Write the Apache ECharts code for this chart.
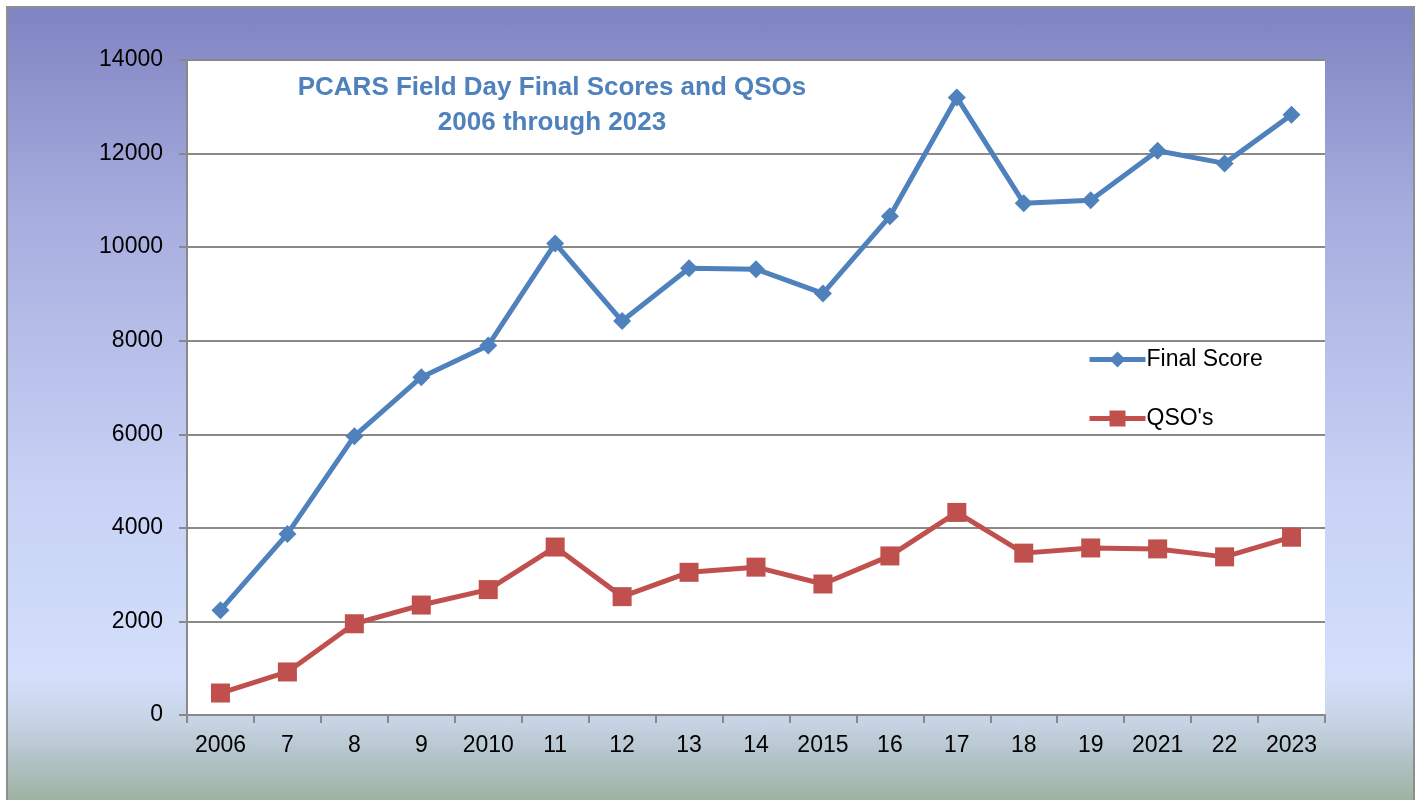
<!DOCTYPE html>
<html>
<head>
<meta charset="utf-8">
<script src="https://cdn.jsdelivr.net/npm/echarts@6/dist/echarts.min.js"></script>
<style>
  html, body { margin: 0; padding: 0; background: #fff; }
  .frame {
    position: absolute; left: 6px; top: 6px; width: 1405px; height: 800px;
    border: 2px solid #8e8e8e; border-bottom: none;
    background: linear-gradient(to bottom, #7f84c2 0px, #a6acdd 200px, #c7d2f5 480px, #d3dffb 670px, #c6d3e4 715px, #b3c3c8 750px, #9aae9a 800px);
  }
  #chart { position: absolute; left: 0; top: 0; width: 1421px; height: 800px; }
</style>
</head>
<body>
<div class="frame"></div>
<div id="chart"></div>
<script>
const years = ['2006', '7', '8', '9', '2010', '11', '12', '13', '14', '2015', '16', '17', '18', '19', '2021', '22', '2023']
const finalScore = [2240, 3870, 5960, 7220, 7900, 10080, 8420, 9550, 9530, 9010, 10660, 13200, 10940, 11000, 12060, 11790, 12830]
const qsos = [470, 920, 1950, 2350, 2680, 3590, 2530, 3050, 3160, 2800, 3400, 4330, 3460, 3570, 3550, 3380, 3800]
const yTicks = { min: 0, max: 14000, interval: 2000 }

const chart = echarts.init(document.getElementById('chart'))
const axisGray = '#898989'
const font = '"Liberation Sans", Arial, sans-serif'

chart.setOption({
  animation: false,
  title: {
    text: 'PCARS Field Day Final Scores and QSOs\n2006 through 2023',
    left: 552,
    top: 70,
    padding: 0,
    textAlign: 'center',
    textStyle: { color: '#4f81bd', fontSize: 26, fontWeight: 'bold', fontFamily: font, lineHeight: 35 },
  },
  legend: {
    orient: 'vertical',
    left: 1082,
    top: 343,
    itemWidth: 56,
    itemHeight: 20,
    itemGap: 36,
    lineStyle: { width: 5 },
    textStyle: { color: '#000', fontSize: 23, fontFamily: font, padding: [0, 0, 0, -4] },
    data: ['Final Score', "QSO's"],
  },
  grid: { left: 187, right: 96, top: 60, bottom: 85, show: true, backgroundColor: '#fff', borderWidth: 0 },
  xAxis: {
    type: 'category',
    data: years,
    boundaryGap: true,
    axisLine: { lineStyle: { color: axisGray, width: 2 } },
    axisTick: { show: true, interval: 0, length: 8, lineStyle: { color: axisGray, width: 2 } },
    axisLabel: { interval: 0, color: '#000', fontSize: 23, fontFamily: font, margin: 19 },
  },
  yAxis: {
    type: 'value',
    min: yTicks.min,
    max: yTicks.max,
    interval: yTicks.interval,
    axisLine: { show: true, lineStyle: { color: axisGray, width: 2 } },
    axisTick: { show: true, length: 8, lineStyle: { color: axisGray, width: 2 } },
    axisLabel: { color: '#000', fontSize: 23, fontFamily: font, margin: 24, formatter: v => String(v) },
    splitLine: { lineStyle: { color: axisGray, width: 2 } },
  },
  series: [
    {
      name: 'Final Score',
      type: 'line',
      data: finalScore,
      symbol: 'diamond',
      symbolSize: [18, 18],
      lineStyle: { color: '#4f81bd', width: 5 },
      itemStyle: { color: '#4f81bd' },
    },
    {
      name: "QSO's",
      type: 'line',
      data: qsos,
      symbol: 'rect',
      symbolSize: 19,
      lineStyle: { color: '#c0504d', width: 5 },
      itemStyle: { color: '#c0504d' },
    },
  ],
})
</script>
</body>
</html>
